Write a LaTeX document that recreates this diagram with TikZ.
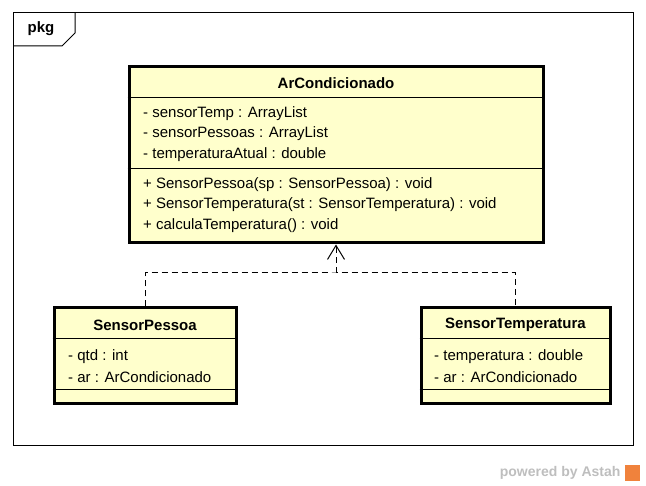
\documentclass[tikz,border=0pt]{standalone}
\usepackage{fontspec}
\setmainfont{Liberation Sans}
\usetikzlibrary{arrows.meta}
\definecolor{classfill}{RGB}{255,255,204}
\definecolor{marktext}{RGB}{190,190,190}
\definecolor{markicon}{RGB}{240,130,60}
\begin{document}
\begin{tikzpicture}[x=1pt,y=-1pt,
    font=\fontsize{15}{18}\selectfont,
    classbox/.style={draw,line width=3pt,fill=classfill},
    member/.style={anchor=west,inner sep=0pt},
    title/.style={font=\fontsize{15}{18}\selectfont\bfseries},
    realize/.style={dash pattern=on 6pt off 4pt,line width=1pt}]
    \useasboundingbox (0,0) rectangle (646,486);
    % package frame
    \draw[line width=1pt] (13,13) rectangle (633,446);
    \draw[line width=1pt] (13,46) -- (62,46) -- (75,33) -- (75,13);
    \node[title] (P) at (41,29) {pkg};
    % classes
    \node[classbox,minimum width=414pt,minimum height=176pt] (AC) at (336,155) {};
    \node[classbox,minimum width=182pt,minimum height=96pt] (SP) at (145,356) {};
    \node[classbox,minimum width=189pt,minimum height=96pt] (ST) at (515.5,356) {};
    \draw[line width=0.8pt] (AC.west |- 0,97) -- (AC.east |- 0,97);
    \draw[line width=0.8pt] (AC.west |- 0,168) -- (AC.east |- 0,168);
    \draw[line width=0.8pt] (SP.west |- 0,338) -- (SP.east |- 0,338);
    \draw[line width=0.8pt] (SP.west |- 0,389) -- (SP.east |- 0,389);
    \draw[line width=0.8pt] (ST.west |- 0,338) -- (ST.east |- 0,338);
    \draw[line width=0.8pt] (ST.west |- 0,389) -- (ST.east |- 0,389);
    \node[title] (ACt) at (336,83) {ArCondicionado};
    \node[member] (a1) at (143,114) {- sensorTemp : ArrayList};
    \node[member] (a2) at (143,134) {- sensorPessoas : ArrayList};
    \node[member] (a3) at (143,155) {- temperaturaAtual : double};
    \node[member] (o1) at (143,185) {+ SensorPessoa(sp : SensorPessoa) : void};
    \node[member] (o2) at (143,205) {+ SensorTemperatura(st : SensorTemperatura) : void};
    \node[member] (o3) at (143,226) {+ calculaTemperatura() : void};
    \node[title] (SPt) at (145,325) {SensorPessoa};
    \node[member] (s1) at (68,357) {- qtd : int};
    \node[member] (s2) at (68,377) {- ar : ArCondicionado};
    \node[title] (STt) at (515.5,325) {SensorTemperatura};
    \node[member] (t1) at (434,357) {- temperatura : double};
    \node[member] (t2) at (434,377) {- ar : ArCondicionado};
    % realizations
    \coordinate (J) at (AC.south |- 0,273);
    \draw[realize] (SP.north) |- (J) -| (ST.north);
    \draw[realize,-{Straight Barb[length=14pt,width=17pt,line width=1pt]}] (J) -- (AC.south);
    % watermark
    \node[text=marktext,font=\fontsize{14}{16}\selectfont\bfseries,anchor=east] (W) at (624,473) {powered by Astah};
    \fill[markicon] (625,465) rectangle (640,481);
\end{tikzpicture}
\end{document}
